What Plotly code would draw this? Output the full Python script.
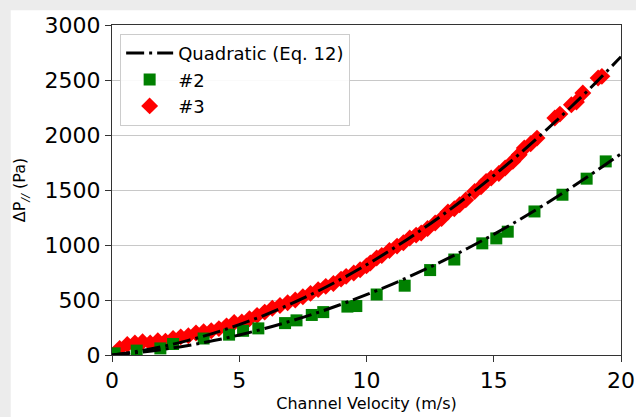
import plotly.graph_objects as go

# Fit curves
fit_v = [0, 1, 2, 3, 4, 5, 6, 7, 8, 9, 10, 11, 12, 13, 14, 15, 16, 17, 18, 19, 20]
fit3_dp = [0, 34, 78, 133, 199, 276, 363, 462, 570, 690, 820, 961, 1113, 1275, 1448, 1632, 1826, 2032, 2248, 2474, 2712]
fit2_dp = [0, 22, 51, 87, 131, 182, 241, 307, 380, 460, 548, 643, 746, 855, 973, 1097, 1229, 1368, 1515, 1669, 1830]

# #2 data
v2 = [0.1, 0.97, 1.9, 2.4, 3.6, 4.6, 5.15, 5.75, 6.8, 7.25, 7.85, 8.3, 9.25, 9.6,
      10.4, 11.5, 12.5, 13.45, 14.55, 15.1, 15.55, 16.6, 17.7, 18.65, 19.4]
dp2 = [15, 40, 60, 100, 150, 185, 220, 242, 290, 315, 364, 390, 440, 445,
       550, 630, 772, 868, 1015, 1060, 1121, 1305, 1457, 1603, 1760]

# #3 data
v3 = [0.3, 0.6, 0.9, 1.2, 1.5, 1.8, 2.1, 2.4, 2.7, 3.0,
      3.3, 3.6, 3.9, 4.2, 4.5, 4.8, 5.1, 5.4, 5.7, 6.0,
      6.3, 6.6, 6.9, 7.2, 7.5, 7.8, 8.1, 8.4, 8.7, 9.0,
      9.2, 9.5, 9.75, 10.0, 10.15, 10.4, 10.6, 10.9, 11.2, 11.45,
      11.7, 11.95, 12.15, 12.4, 12.7, 12.95, 13.2, 13.45, 13.66, 13.9,
      14.25, 14.5, 14.7, 14.9, 15.2, 15.45, 15.75, 16.0, 16.2, 16.45,
      16.7, 17.4, 17.6, 18.05, 18.25, 18.5, 19.1, 19.25]
dp3 = [60, 95, 110, 120, 110, 130, 125, 150, 165, 175,
       200, 212, 220, 240, 265, 295, 300, 330, 360, 390,
       425, 450, 475, 500, 530, 560, 594, 624, 650, 690,
       715, 745, 775, 810, 836, 882, 905, 950, 990, 1020,
       1064, 1090, 1109, 1150, 1200, 1240, 1300, 1330, 1366, 1410,
       1487, 1530, 1578, 1609, 1650, 1700, 1760, 1821, 1882, 1920,
       1972, 2155, 2190, 2275, 2300, 2382, 2518, 2533]

x_ticks = [0, 5, 10, 15, 20]
y_ticks = [0, 500, 1000, 1500, 2000, 2500, 3000]

FONT = "DejaVu Sans"
DASH = "18px,5px,3px,5px"

fig = go.Figure()
fig.add_trace(go.Scatter(x=v3, y=dp3, mode="markers", name="#3", legendrank=3,
                         marker=dict(symbol="diamond", size=13, color="#ff0000", line=dict(width=0))))
fig.add_trace(go.Scatter(x=v2, y=dp2, mode="markers", name="#2", legendrank=2,
                         marker=dict(symbol="square", size=12, color="#008000", line=dict(width=0))))
fig.add_trace(go.Scatter(x=fit_v, y=fit3_dp, mode="lines", name="Quadratic (Eq. 12)", legendrank=1,
                         line=dict(color="black", width=3, dash=DASH, shape="spline")))
fig.add_trace(go.Scatter(x=fit_v, y=fit2_dp, mode="lines", showlegend=False,
                         line=dict(color="black", width=3, dash=DASH, shape="spline")))

fig.add_shape(type="rect", xref="paper", yref="paper", x0=-0.199, x1=1.1, y0=-0.35, y1=1.045,
              fillcolor="white", line=dict(width=0), layer="below")

fig.update_layout(
    width=636, height=417,
    margin=dict(l=112, r=15, t=25, b=62, autoexpand=False),
    paper_bgcolor="#ececec",
    plot_bgcolor="white",
    font=dict(family=FONT, color="black"),
    showlegend=True,
    legend=dict(x=0.016, y=0.973, xanchor="left", yanchor="top",
                bgcolor="rgba(255,255,255,0.9)", bordercolor="#cccccc", borderwidth=1,
                itemwidth=47,
                font=dict(size=18, family=FONT), tracegroupgap=0),
    xaxis=dict(range=[0, 20], tickvals=x_ticks, showgrid=False, zeroline=False,
               showline=True, linecolor="#333333", linewidth=1, mirror=True,
               ticks="outside", ticklen=6, tickcolor="#333333",
               tickfont=dict(size=22, family=FONT),
               title=dict(text="Channel Velocity (m/s)", font=dict(size=16, family=FONT), standoff=5)),
    yaxis=dict(range=[0, 3000], tickvals=y_ticks, showgrid=True, gridcolor="#c8c8c8", gridwidth=1,
               zeroline=False,
               showline=True, linecolor="#333333", linewidth=1, mirror=True,
               ticks="outside", ticklen=6, tickcolor="#333333",
               tickfont=dict(size=22, family=FONT),
               title=dict(text="ΔP<sub><i>//</i></sub> (Pa)", font=dict(size=16, family=FONT), standoff=14)),
)

fig.write_html("out.html")
